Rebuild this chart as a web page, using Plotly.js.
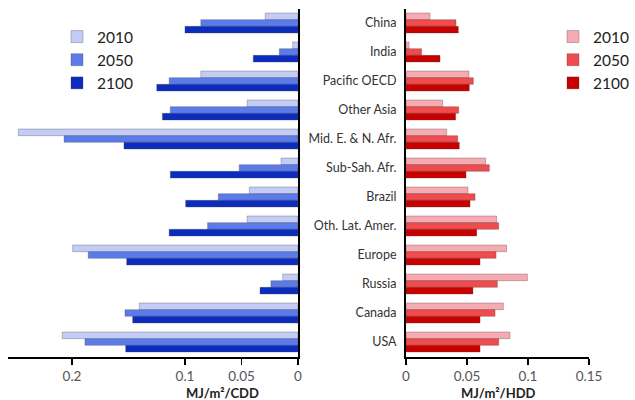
<!DOCTYPE html>
<html>
<head>
<meta charset="utf-8">
<script src="https://cdn.plot.ly/plotly-3.0.1.min.js"></script>
<style>html,body{margin:0;padding:0;background:#fff}#chart{width:635px;height:400px}</style>
</head>
<body>
<div id="chart"></div>
<script>
// Regions (top to bottom)
const regions = ["China", "India", "Pacific OECD", "Other Asia", "Mid. E. & N. Afr.", "Sub-Sah. Afr.", "Brazil", "Oth. Lat. Amer.", "Europe", "Russia", "Canada", "USA"];
const years = ["2010", "2050", "2100"];

// Cooling intensity, MJ/m2/CDD
const cdd2010 = [0.029, 0.0047, 0.086, 0.045, 0.2475, 0.015, 0.043, 0.045, 0.1994, 0.0135, 0.1404, 0.2086];
const cdd2050 = [0.086, 0.0165, 0.114, 0.113, 0.207, 0.052, 0.0705, 0.080, 0.1856, 0.024, 0.1531, 0.1885];
const cdd2100 = [0.100, 0.0396, 0.125, 0.120, 0.154, 0.113, 0.0994, 0.114, 0.1516, 0.0336, 0.1463, 0.1525];

// Heating intensity, MJ/m2/HDD
const hdd2010 = [0.0197, 0.0025, 0.0516, 0.030, 0.0333, 0.0653, 0.0508, 0.0743, 0.0825, 0.0995, 0.0798, 0.0852];
const hdd2050 = [0.041, 0.0128, 0.0552, 0.0432, 0.0424, 0.0683, 0.0566, 0.076, 0.0738, 0.0749, 0.073, 0.076];
const hdd2100 = [0.0429, 0.0279, 0.0519, 0.0407, 0.0437, 0.0492, 0.0525, 0.058, 0.0607, 0.0549, 0.0607, 0.0607];

const cddTicks = [0, 0.05, 0.1, 0.2];
const cddTickText = ["0", "0.05", "0.1", "0.2"];
const hddTicks = [0, 0.05, 0.1, 0.15];
const hddTickText = ["0", "0.05", "0.1", "0.15"];

const blues = ["#c3ccf5", "#5b7be9", "#0b2cbd"];
const reds = ["#f5abb1", "#f04b4d", "#c80000"];
const FONT = "Lato, 'Open Sans', sans-serif";

const cddSeries = [cdd2010, cdd2050, cdd2100];
const hddSeries = [hdd2010, hdd2050, hdd2100];

const traces = [];
years.forEach((yr, i) => {
  traces.push({
    type: "bar", orientation: "h", name: yr,
    x: cddSeries[i], y: regions, xaxis: "x", yaxis: "y",
    marker: {color: blues[i], line: {color: "rgba(70,70,90,0.55)", width: 0.6}},
    legend: "legend", hoverinfo: "x+y"
  });
});
years.forEach((yr, i) => {
  traces.push({
    type: "bar", orientation: "h", name: yr,
    x: hddSeries[i], y: regions, xaxis: "x2", yaxis: "y2",
    marker: {color: reds[i], line: {color: "rgba(90,60,60,0.55)", width: 0.6}},
    legend: "legend2", hoverinfo: "x+y"
  });
});

const W = 635, H = 400;
const yDom = [1 - 356.5 / H, 1 - 8.5 / H];

const layout = {
  width: W, height: H,
  margin: {l: 0, r: 0, t: 0, b: 0},
  paper_bgcolor: "#fff", plot_bgcolor: "rgba(0,0,0,0)",
  font: {family: FONT, color: "#333"},
  barmode: "group", bargap: 0.31, bargroupgap: 0,
  showlegend: true,
  xaxis: {
    domain: [8 / W, 298 / W], anchor: "y",
    range: [0.2566, 0], autorange: false,
    tickvals: cddTicks, ticktext: cddTickText,
    ticks: "outside", ticklen: 6, tickwidth: 1.5, tickcolor: "#000",
    showline: true, linecolor: "#000", linewidth: 2,
    showgrid: false, zeroline: false, automargin: false,
    tickfont: {size: 13.5, color: "#555", family: FONT}
  },
  yaxis: {
    domain: yDom, anchor: "x", side: "right",
    type: "category", categoryorder: "array", categoryarray: regions,
    autorange: "reversed",
    showline: true, linecolor: "#000", linewidth: 2,
    showticklabels: false, ticks: "", showgrid: false, zeroline: false, automargin: false
  },
  xaxis2: {
    domain: [406 / W, 589 / W], anchor: "y2",
    range: [0, 0.15], autorange: false,
    tickvals: hddTicks, ticktext: hddTickText,
    ticks: "outside", ticklen: 6, tickwidth: 1.5, tickcolor: "#000",
    showline: true, linecolor: "#000", linewidth: 2,
    showgrid: false, zeroline: false, automargin: false,
    tickfont: {size: 13.5, color: "#555", family: FONT}
  },
  yaxis2: {
    domain: yDom, anchor: "x2", side: "left",
    type: "category", categoryorder: "array", categoryarray: regions,
    autorange: "reversed",
    showline: true, linecolor: "#000", linewidth: 2,
    ticks: "outside", ticklen: 5, tickcolor: "rgba(0,0,0,0)",
    showgrid: false, zeroline: false, automargin: false,
    tickfont: {size: 12.5, color: "#333", family: FONT}
  },
  legend: {
    x: 57 / W, xanchor: "left", y: 1 - 20 / H, yanchor: "top",
    bgcolor: "rgba(0,0,0,0)", borderwidth: 0, traceorder: "normal",
    font: {size: 15.5, color: "#222", family: FONT}
  },
  legend2: {
    x: 553 / W, xanchor: "left", y: 1 - 20 / H, yanchor: "top",
    bgcolor: "rgba(0,0,0,0)", borderwidth: 0, traceorder: "normal",
    font: {size: 15.5, color: "#222", family: FONT}
  },
  annotations: [
    {text: "<b>MJ/m²/CDD</b>", xref: "paper", yref: "paper", x: 222 / W, y: 1 - 392.5 / H,
     xanchor: "center", yanchor: "middle", showarrow: false, font: {size: 13, color: "#222", family: FONT}},
    {text: "<b>MJ/m²/HDD</b>", xref: "paper", yref: "paper", x: 498 / W, y: 1 - 392.5 / H,
     xanchor: "center", yanchor: "middle", showarrow: false, font: {size: 13, color: "#222", family: FONT}}
  ]
};

Plotly.newPlot("chart", traces, layout, {displayModeBar: false, staticPlot: true});
</script>
</body>
</html>
